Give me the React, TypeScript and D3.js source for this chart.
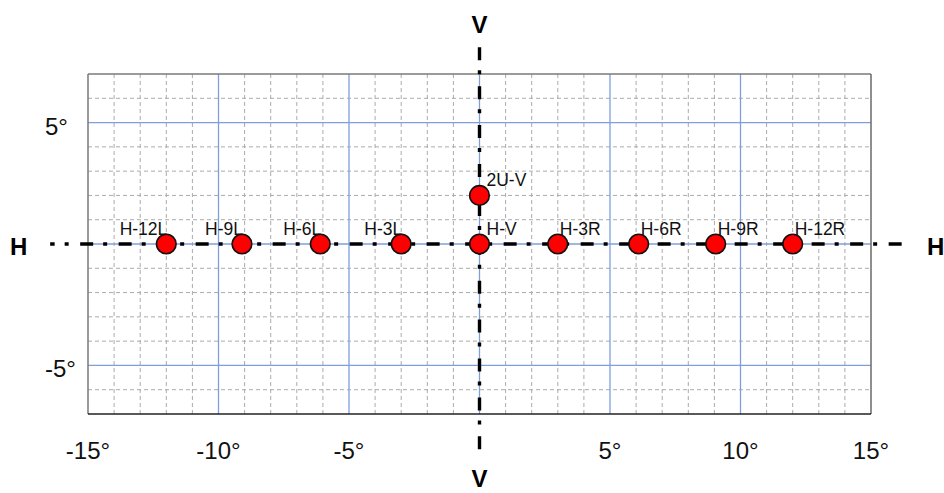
import React from "react";
import * as d3 from "d3";

const W = 944;
const H = 493;

// Data
const pointNames = ["H-12L", "H-9L", "H-6L", "H-3L", "H-V", "H-3R", "H-6R", "H-9R", "H-12R", "2U-V"];
const pointX = [-12, -9.1, -6.1, -3, 0, 3, 6.1, 9.05, 12, 0];
const pointY = [0, 0, 0, 0, 0, 0, 0, 0, 0, 2];
const xTickValues = [-15, -10, -5, 5, 10, 15];
const yTickValues = [5, -5];
const xDomain = [-15, 15];
const yDomain = [-7, 7];
const hLineExtent = [-16.45, 16.45];
const vLineExtent = [8.1, -8.47];

const FONT = "'Liberation Sans', Arial, sans-serif";

export default function App() {
  const x = d3.scaleLinear().domain(xDomain).range([88, 871]);
  const y = d3.scaleLinear().domain(yDomain).range([414, 74]);

  const minorX = d3.range(xDomain[0], xDomain[1] + 1, 1);
  const minorY = d3.range(yDomain[0], yDomain[1] + 1, 1);
  const majorX = minorX.filter((v) => v % 5 === 0 && v !== xDomain[0] && v !== xDomain[1]);
  const majorY = minorY.filter((v) => v % 5 === 0);

  const line = d3.line<[number, number]>().x((d) => d[0]).y((d) => d[1]);

  const hPath = line([
    [x(hLineExtent[0]), y(0)],
    [x(hLineExtent[1]), y(0)],
  ]);
  const vPath = line([
    [x(0), y(vLineExtent[0])],
    [x(0), y(vLineExtent[1])],
  ]);

  const labelPos = (i: number) => {
    const cx = x(pointX[i]);
    const cy = y(pointY[i]);
    if (pointX[i] < 0) return { tx: cx + 1, ty: cy - 9.5, anchor: "end" };
    if (pointX[i] > 0) return { tx: cx + 2, ty: cy - 9.5, anchor: "start" };
    return { tx: cx + 7, ty: cy - 9.5, anchor: "start" };
  };

  return (
    <svg
      width={W}
      height={H}
      style={{ position: "absolute", left: 0, top: 0, background: "#fff" }}
      fontFamily={FONT}
    >
      <rect x={0} y={0} width={W} height={H} fill="#fff" />
      {/* minor grid */}
      {minorX
        .filter((v) => v % 5 !== 0)
        .map((v) => (
          <line key={"mx" + v} x1={x(v)} x2={x(v)} y1={y(yDomain[1])} y2={y(yDomain[0])} stroke="#ababab" strokeWidth={1} strokeDasharray="4,3" />
        ))}
      {minorY
        .filter((v) => v % 5 !== 0 && v !== yDomain[0] && v !== yDomain[1])
        .map((v) => (
          <line key={"my" + v} x1={x(xDomain[0])} x2={x(xDomain[1])} y1={y(v)} y2={y(v)} stroke="#ababab" strokeWidth={1} strokeDasharray="4,3" />
        ))}
      {/* major grid */}
      {majorX.map((v) => (
        <line key={"Mx" + v} x1={x(v)} x2={x(v)} y1={y(yDomain[1])} y2={y(yDomain[0])} stroke="#7f9fdc" strokeWidth={1.3} />
      ))}
      {majorY.map((v) => (
        <line key={"My" + v} x1={x(xDomain[0])} x2={x(xDomain[1])} y1={y(v)} y2={y(v)} stroke="#7f9fdc" strokeWidth={1.3} />
      ))}
      {/* border */}
      <line x1={x(-15)} x2={x(15)} y1={y(7)} y2={y(7)} stroke="#7a7a7a" strokeWidth={1.5} />
      <line x1={x(-15)} x2={x(-15)} y1={y(7)} y2={y(-7)} stroke="#7a7a7a" strokeWidth={1.5} />
      <line x1={x(15)} x2={x(15)} y1={y(7)} y2={y(-7)} stroke="#6a6a6a" strokeWidth={1.5} />
      <line x1={x(-15)} x2={x(15)} y1={y(-7)} y2={y(-7)} stroke="#222" strokeWidth={1.5} />

      {/* H and V reference lines */}
      <path d={hPath || ""} fill="none" stroke="#000" strokeWidth={3.4} strokeDasharray="13,10,4,11.5" strokeDashoffset={8.5} />
      <path d={vPath || ""} fill="none" stroke="#000" strokeWidth={3.4} strokeDasharray="13,10,4,11.9" />

      {/* points */}
      {pointNames.map((n, i) => (
        <circle key={n} cx={x(pointX[i])} cy={y(pointY[i])} r={9.8} fill="#ff0000" stroke="#111" strokeWidth={1.6} />
      ))}
      {pointNames.map((n, i) => {
        const p = labelPos(i);
        return (
          <text key={"t" + n} x={p.tx} y={p.ty} fontSize={17.5} textAnchor={p.anchor as any} fill="#111">
            {n}
          </text>
        );
      })}

      {/* tick labels */}
      {xTickValues.map((v) => (
        <text key={"xt" + v} x={x(v)} y={459} fontSize={24} textAnchor="middle" fill="#111">
          {v + "°"}
        </text>
      ))}
      {yTickValues.map((v) => (
        <text key={"yt" + v} x={45} y={y(v) + 12} fontSize={24} textAnchor="start" fill="#111">
          {v + "°"}
        </text>
      ))}

      {/* axis letters */}
      <text x={10} y={y(0) + 11} fontSize={24} fontWeight="bold" fill="#000">H</text>
      <text x={927} y={y(0) + 11} fontSize={24} fontWeight="bold" fill="#000">H</text>
      <text x={x(0)} y={33} fontSize={24} fontWeight="bold" textAnchor="middle" fill="#000">V</text>
      <text x={x(0)} y={487} fontSize={24} fontWeight="bold" textAnchor="middle" fill="#000">V</text>
    </svg>
  );
}
